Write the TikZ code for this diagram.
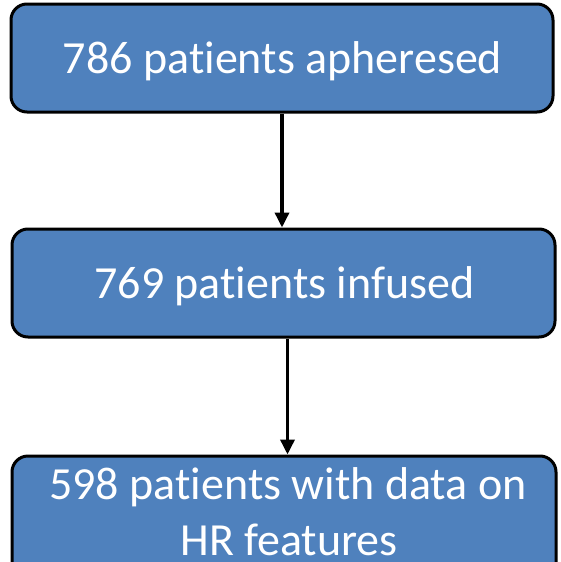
\documentclass[tikz,border=0pt]{standalone}
\usepackage{fontspec}
\setmainfont[Ligatures=NoCommon]{Carlito}
\usetikzlibrary{arrows.meta}
\definecolor{boxblue}{RGB}{79,129,189}
\tikzset{
  flowbox/.style={draw=black, line width=3pt, fill=boxblue, rounded corners=16pt, inner sep=0pt},
  flowtext/.style={text=white, font=\fontsize{46}{59}\selectfont, align=center, inner sep=0pt, anchor=base},
  flowarrow/.style={draw=black, line width=3.5pt, -{Triangle[length=15pt,width=14pt]}}
}
\begin{document}
\begin{tikzpicture}[x=1pt,y=1pt]
\useasboundingbox (0,0) rectangle (560,-562);
\clip (0,0) rectangle (560,-562);
\node[flowbox, minimum width=542pt, minimum height=108pt] (a) at (282,-58) {};
\node[flowbox, minimum width=543pt, minimum height=108pt] (b) at (283.5,-283) {};
\node[flowbox, minimum width=544pt, minimum height=150pt] (c) at (284,-531) {};
\node[flowtext] (at) at (282.5,-73) {786 patients apheresed};
\node[flowtext] (bt) at (284.5,-298) {769 patients infused};
\node[flowtext] (ct) at (288,-499) {598 patients with data on};
\node[flowtext] (ct2) at (289,-555) {HR features};
\draw[flowarrow] (a.south) -- (a.south |- b.north);
\draw[flowarrow] ([xshift=4pt]b.south) -- ([xshift=4pt]b.south |- c.north);
\end{tikzpicture}
\end{document}
